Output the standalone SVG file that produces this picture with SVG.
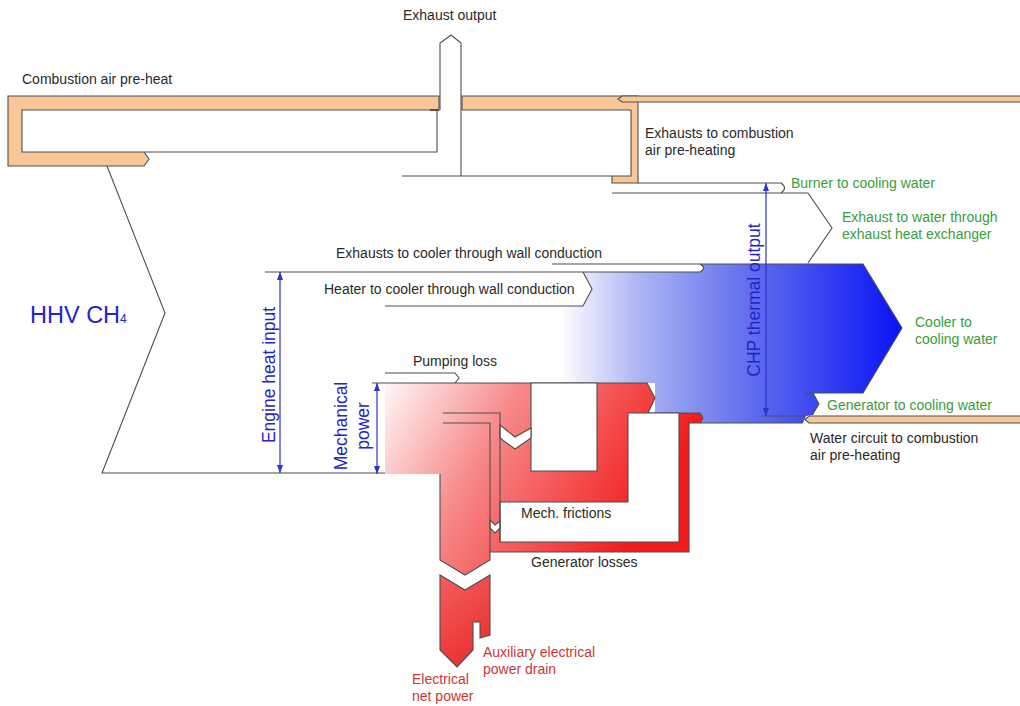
<svg xmlns="http://www.w3.org/2000/svg" width="1020" height="706" viewBox="0 0 1020 706">
<defs>
  <style>
    .ol{fill:none;stroke:#4e4e4e;stroke-width:1.1;stroke-linejoin:miter}
    .or{fill:#f9c797;stroke:#4e4e4e;stroke-width:1.1}
    .wh{fill:#ffffff;stroke:#4e4e4e;stroke-width:1.1}
    .t{font-family:"Liberation Sans",Arial,sans-serif;font-size:14px;fill:#2a2a2a}
    .g{fill:#3a9e3a}
    .r{fill:#c83838}
    .b{font-family:"Liberation Sans",Arial,sans-serif;fill:#2424c8}
    .dim{fill:none;stroke:#3030cc;stroke-width:1.2;marker-start:url(#arr);marker-end:url(#arr)}
  </style>
  <linearGradient id="gRed" gradientUnits="userSpaceOnUse" x1="385" y1="385" x2="640" y2="530">
    <stop offset="0" stop-color="#fff6f6"/>
    <stop offset="0.4" stop-color="#f78a8a"/>
    <stop offset="1" stop-color="#f21a1a"/>
  </linearGradient>
  <linearGradient id="gRed2" gradientUnits="userSpaceOnUse" x1="430" y1="575" x2="500" y2="665">
    <stop offset="0" stop-color="#f46262"/>
    <stop offset="1" stop-color="#e82626"/>
  </linearGradient>
  <linearGradient id="gBlue" gradientUnits="userSpaceOnUse" x1="560" y1="0" x2="900" y2="0">
    <stop offset="0" stop-color="#ffffff"/>
    <stop offset="0.22" stop-color="#b0b8f4"/>
    <stop offset="0.5" stop-color="#6c7aee"/>
    <stop offset="1" stop-color="#0a14f5"/>
  </linearGradient>
  <marker id="arr" viewBox="0 0 8 6" refX="8" refY="3" markerWidth="8" markerHeight="6" markerUnits="userSpaceOnUse" orient="auto-start-reverse">
    <path d="M0,0 L8,3 L0,6 Z" fill="#3030cc"/>
  </marker>
</defs>
<rect width="1020" height="706" fill="#ffffff"/>

<g id="combustion-air-preheat">
  <path class="or" d="M8,96 H439 V110 H22 V152 H144 L149,159 L144,166 H8 Z"/>
  <path class="ol" d="M144,152 H437 V110"/>
  <path d="M430,110 H439" stroke="#4e4e4e" stroke-width="2"/>
</g>

<g id="exhaust-preheat">
  <path class="or" d="M462,96 H638 V183 H612 V176 H631 V110 H462 Z"/>
</g>

<g id="water-circuit-preheat">
  <path class="or" d="M1020,96 H622 L618,99 L622,102 H1020"/>
  <path class="or" d="M1020,416 H809 L805,419.5 L809,423 H1020"/>
</g>

<g id="exhaust-output">
  <path class="ol" d="M440,110 V43 L451,35 L461,43 V176"/>
  <path class="ol" d="M402,176 H612"/>
</g>

<g id="thermal-output">
  <path d="M560,272 H700 L704,268 L700,264 H863 L902,328 L863,393 H813 L819,404 L813,415 L806,416 L803,423 H689 V413 H655 V383 H560 Z" fill="url(#gBlue)"/>
  <path class="ol" d="M700,264 H863 L902,328 L863,393 H804 M813,393 L819,404 L812,415 M803,423 H700"/>
  <path class="ol" d="M762,416 H805"/>
</g>

<g id="burner-exhaust">
  <path class="ol" d="M638,183 H781 Q788,188 781,193 H612"/>
  <path class="ol" d="M781,193 H808 L832,228 L808,263"/>
</g>

<g id="wall-conduction">
  <path d="M385,272 H583 L592,289 L583,306 H385 Z" fill="#ffffff"/>
  <path class="ol" d="M552,264 H700 Q707,268 700,272 M265,272 H700"/>
  <path class="ol" d="M385,306 H583 L592,289 L583,272"/>
</g>

<g id="hhv-input">
  <path class="ol" d="M107,166 L165,313 L102,473 H440"/>
</g>

<g id="mechanical-power">
  <path d="M385,383 H647 L655,398 L648,413 H700 L703,418 L700,423 H689 V552 H490 V560 L465,575 L440,560 V474 H385 Z" fill="url(#gRed)"/>
  <path class="ol" d="M385,383 H647 L655,398 L648,413 H700 L703,418 L700,423 H689 V552 H490 V560 L465,575 L440,560 V474"/>
  <path class="wh" d="M531,383 H597 V471 H531 Z"/>
  <path class="wh" d="M500,502 H628 V413 H679 V542 H500 Z"/>
  <path class="wh" d="M500,425 L515,437 L531,428 V438 L515,449 L500,438 Z"/>
  <path class="wh" d="M490,520 L495,525 L500,521 V528 L495,533 L490,528 Z"/>
  <path class="ol" d="M443,413 H500 V542 M443,423 H490 V552"/>
  <path class="ol" d="M385,373 H455 L459,378 L455,383 M372,383 H385"/>
</g>

<g id="electrical-power">
  <path d="M440,575 L465,590 L490,575 V635 L480,638 V622 H473 V650 L457,667 L440,650 Z" fill="url(#gRed2)" stroke="#4e4e4e" stroke-width="1.1"/>
</g>

<g id="connectors">
  <path class="dim" d="M280,272 V473"/>
  <path class="dim" d="M377,383 V474"/>
  <path class="dim" d="M766,183 V416"/>
</g>

<g id="labels">
  <text class="t" x="22" y="84">Combustion air pre-heat</text>
  <text class="t" x="403" y="20">Exhaust output</text>
  <text class="t" x="645" y="138">Exhausts to combustion</text>
  <text class="t" x="645" y="155">air pre-heating</text>
  <text class="t g" x="791" y="188">Burner to cooling water</text>
  <text class="t g" x="842" y="222">Exhaust to water through</text>
  <text class="t g" x="842" y="239">exhaust heat exchanger</text>
  <text class="t" x="336" y="258">Exhausts to cooler through wall conduction</text>
  <text class="t" x="324" y="294">Heater to cooler through wall conduction</text>
  <text class="t" x="413" y="366">Pumping loss</text>
  <text class="t g" x="915" y="327">Cooler to</text>
  <text class="t g" x="915" y="344">cooling water</text>
  <text class="t g" x="827" y="410">Generator to cooling water</text>
  <text class="t" x="810" y="443">Water circuit to combustion</text>
  <text class="t" x="810" y="460">air pre-heating</text>
  <text class="t" x="521" y="518">Mech. frictions</text>
  <text class="t" x="531" y="567">Generator losses</text>
  <text class="t r" x="483" y="657">Auxiliary electrical</text>
  <text class="t r" x="483" y="674">power drain</text>
  <text class="t r" x="412" y="684">Electrical</text>
  <text class="t r" x="412" y="701">net power</text>
  <text class="b" x="30" y="323" font-size="23.5">HHV CH<tspan font-size="12">4</tspan></text>
  <text class="b" font-size="17.5" text-anchor="middle" transform="translate(275,375) rotate(-90)">Engine heat input</text>
  <text class="b" font-size="17.5" text-anchor="middle" transform="translate(760,300) rotate(-90)">CHP thermal output</text>
  <text class="b" font-size="17.5" text-anchor="middle" transform="translate(347,426) rotate(-90)">Mechanical</text>
  <text class="b" font-size="17.5" text-anchor="middle" transform="translate(369,426) rotate(-90)">power</text>
</g>
</svg>
